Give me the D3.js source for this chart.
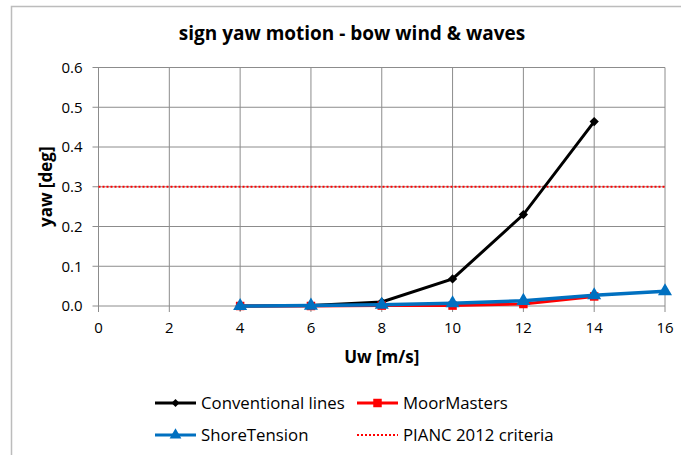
<!DOCTYPE html>
<style>
    body { margin: 0; background: #fff; }
    text { font-family: "Open Sans", Lato, sans-serif; fill: #000; }
</style>
<body>
<svg></svg>
<script src="https://d3js.org/d3.v7.min.js"></script>
<script>
    // values
    let uwConv = [4, 6, 8, 10, 12, 14],
        conventional = [0.0, 0.001, 0.01, 0.068, 0.23, 0.464];
    let uwMoor = [4, 6, 8, 10, 12, 14],
        moorMasters = [0.0, 0.0, 0.001, 0.001, 0.005, 0.024];
    let uwShore = [4, 6, 8, 10, 12, 14, 16],
        shoreTension = [0.0, 0.001, 0.003, 0.007, 0.013, 0.027, 0.037];
    let criteriaX = [0, 16],
        criteria = [0.3, 0.3];
    let xTicks = [0, 2, 4, 6, 8, 10, 12, 14, 16],
        yTicks = [0, 0.1, 0.2, 0.3, 0.4, 0.5, 0.6];

    let width = 681,
        height = 455;

    let svg = d3.select("svg")
        .attr("width", width)
        .attr("height", height);

    // outer chart border (runs off the right / bottom edge)
    svg.append("rect")
        .attr("x", 11.5).attr("y", 6.5)
        .attr("width", 700).attr("height", 470)
        .attr("fill", "#fff")
        .attr("stroke", "#bcbcbc")
        .attr("stroke-width", 1.5);

    let x = d3.scaleLinear().domain([0, 16]).range([98.5, 665]),
        y = d3.scaleLinear().domain([0, 0.6]).range([306, 67.5]);

    // grid
    let grid = svg.append("g").attr("stroke", "#8c8c8c").attr("stroke-width", 1);
    grid.selectAll(".gx").data(xTicks).enter().append("line")
        .attr("x1", d => x(d)).attr("x2", d => x(d))
        .attr("y1", y(0.6)).attr("y2", y(0) + 6);
    grid.selectAll(".gy").data(yTicks).enter().append("line")
        .attr("x1", x(0) - 6).attr("x2", x(16))
        .attr("y1", d => y(d)).attr("y2", d => y(d));

    // tick labels
    svg.append("g").selectAll("text").data(yTicks).enter().append("text")
        .attr("x", x(0) - 16).attr("y", d => y(d))
        .attr("dy", "0.35em")
        .attr("text-anchor", "end")
        .style("font-size", "15px")
        .text(d => d3.format(".1f")(d));

    svg.append("g").selectAll("text").data(xTicks).enter().append("text")
        .attr("x", d => x(d)).attr("y", y(0) + 27)
        .attr("text-anchor", "middle")
        .style("font-size", "15px")
        .text(d => d);

    // titles
    svg.append("text")
        .attr("x", 352).attr("y", 40)
        .attr("text-anchor", "middle")
        .style("font-size", "19px").style("font-weight", "bold")
        .text("sign yaw motion - bow wind & waves");

    svg.append("text")
        .attr("transform", "translate(52," + y(0.3) + ") rotate(-90)")
        .attr("text-anchor", "middle")
        .style("font-size", "17px").style("font-weight", "bold")
        .text("yaw [deg]");

    svg.append("text")
        .attr("x", x(8)).attr("y", 363)
        .attr("text-anchor", "middle")
        .style("font-size", "17px").style("font-weight", "bold")
        .text("Uw [m/s]");

    let line = d3.line().x(d => x(d[0])).y(d => y(d[1]));

    // criteria line
    svg.append("path")
        .datum(d3.zip(criteriaX, criteria))
        .attr("d", line)
        .attr("fill", "none")
        .attr("stroke", "#ff0000")
        .attr("stroke-width", 2)
        .attr("stroke-dasharray", "2,2");

    let series = [
        {name: "Conventional lines", xs: uwConv, ys: conventional, color: "#000000", marker: d3.symbolDiamond2, size: 55, w: 3},
        {name: "MoorMasters", xs: uwMoor, ys: moorMasters, color: "#ff0000", marker: d3.symbolSquare, size: 72, w: 3},
        {name: "ShoreTension", xs: uwShore, ys: shoreTension, color: "#0070c0", marker: d3.symbolTriangle, size: 85, w: 3.5}
    ];

    series.forEach(function (s) {
        let pts = d3.zip(s.xs, s.ys);
        svg.append("path")
            .datum(pts)
            .attr("d", line)
            .attr("fill", "none")
            .attr("stroke", s.color)
            .attr("stroke-width", s.w);
        svg.append("g").selectAll("path").data(pts).enter().append("path")
            .attr("d", d3.symbol().type(s.marker).size(s.size))
            .attr("transform", d => "translate(" + x(d[0]) + "," + y(d[1]) + ")")
            .attr("fill", s.color);
    });

    // legend
    let legendItems = [
        {name: "Conventional lines", color: "#000000", marker: d3.symbolDiamond2, size: 40, lx: 155, ly: 403},
        {name: "MoorMasters", color: "#ff0000", marker: d3.symbolSquare, size: 72, lx: 357, ly: 403},
        {name: "ShoreTension", color: "#0070c0", marker: d3.symbolTriangle, size: 60, lx: 155, ly: 435},
        {name: "PIANC 2012 criteria", color: "#ff0000", marker: null, lx: 357, ly: 435}
    ];

    let lg = svg.append("g").selectAll("g").data(legendItems).enter().append("g")
        .attr("transform", d => "translate(" + d.lx + "," + d.ly + ")");
    lg.append("line")
        .attr("x1", 0).attr("x2", 41)
        .attr("stroke", d => d.color)
        .attr("stroke-width", d => d.marker ? 3 : 2)
        .attr("stroke-dasharray", d => d.marker ? null : "2,2");
    lg.filter(d => d.marker).append("path")
        .attr("d", d => d3.symbol().type(d.marker).size(d.size)())
        .attr("transform", "translate(20.5,0)")
        .attr("fill", d => d.color);
    lg.append("text")
        .attr("x", 46).attr("dy", "0.35em")
        .style("font-size", "16.8px")
        .text(d => d.name);
</script>
</body>
